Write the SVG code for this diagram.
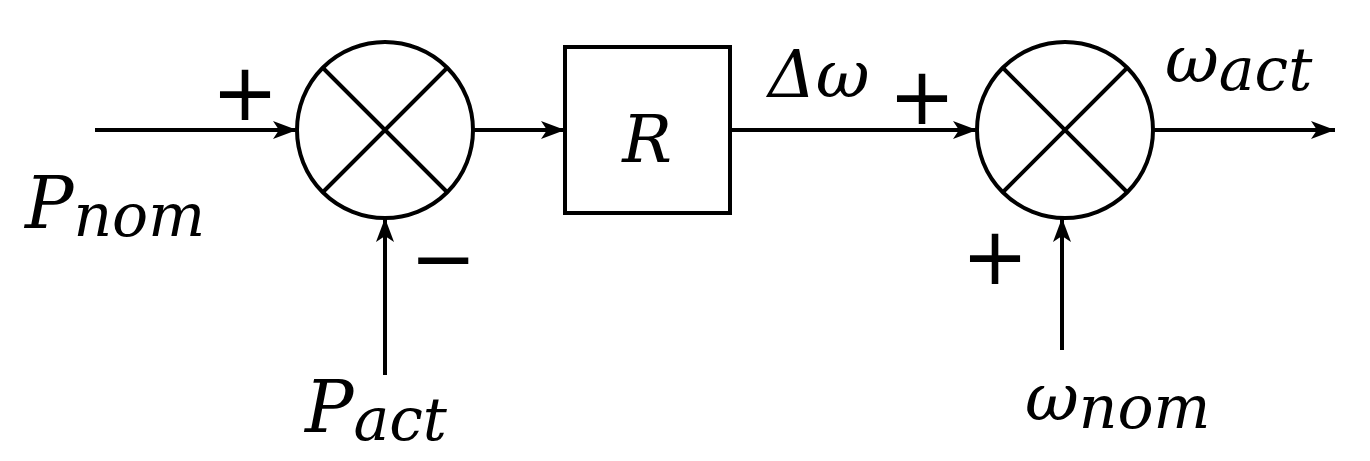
<svg xmlns="http://www.w3.org/2000/svg" width="1370" height="461" viewBox="0 0 1370 461">
<style>
.l{stroke:#000;stroke-width:4;fill:none}
.m{font-family:"DejaVu Serif",serif;font-style:italic;fill:#000}
.s{font-family:"DejaVu Sans",sans-serif;fill:#000}
</style>
<defs><marker id="b" viewBox="0 0 24 18" refX="24" refY="9" markerWidth="24" markerHeight="18" orient="auto" markerUnits="userSpaceOnUse"><path d="M0,0L24,9L0,18L6,9Z" fill="#000"/></marker></defs>
<rect width="1370" height="461" fill="#fff"/>
<g id="sum1"><circle class="l" cx="385" cy="130" r="88"/><path class="l" d="M323,68L447,192M447,68L323,192"/></g>
<g id="R"><rect class="l" x="565" y="47" width="165" height="166"/><text class="m" x="647" y="162" font-size="66" text-anchor="middle">R</text></g>
<g id="sum2"><circle class="l" cx="1065" cy="130" r="88"/><path class="l" d="M1003,68L1127,192M1127,68L1003,192"/></g>
<g id="connectors">
<path class="l" d="M95,130H297" marker-end="url(#b)"/>
<path class="l" d="M473,130H565" marker-end="url(#b)"/>
<path class="l" d="M730,130H977" marker-end="url(#b)"/>
<path class="l" d="M1153,130H1335" marker-end="url(#b)"/>
<path class="l" d="M385,375V218" marker-end="url(#b)"/>
<path class="l" d="M1062,350V218" marker-end="url(#b)"/>
</g>
<g id="labels">
<text class="s" x="245" y="120" font-size="80" text-anchor="middle">+</text>
<text class="m" x="25" y="228" font-size="72">P<tspan font-size="60" dy="8">nom</tspan></text>
<text class="s" x="443" y="286" font-size="80" text-anchor="middle">−</text>
<text class="m" x="305" y="432" font-size="72">P<tspan font-size="60" dy="8">act</tspan></text>
<text class="m" x="768" y="97" font-size="66">Δω</text>
<text class="s" x="922" y="124" font-size="80" text-anchor="middle">+</text>
<text class="m" x="1165" y="82" font-size="66">ω<tspan font-size="60" dy="8">act</tspan></text>
<text class="s" x="995" y="284" font-size="80" text-anchor="middle">+</text>
<text class="m" x="1025" y="420" font-size="66">ω<tspan font-size="60" dy="8">nom</tspan></text>
</g>
</svg>
